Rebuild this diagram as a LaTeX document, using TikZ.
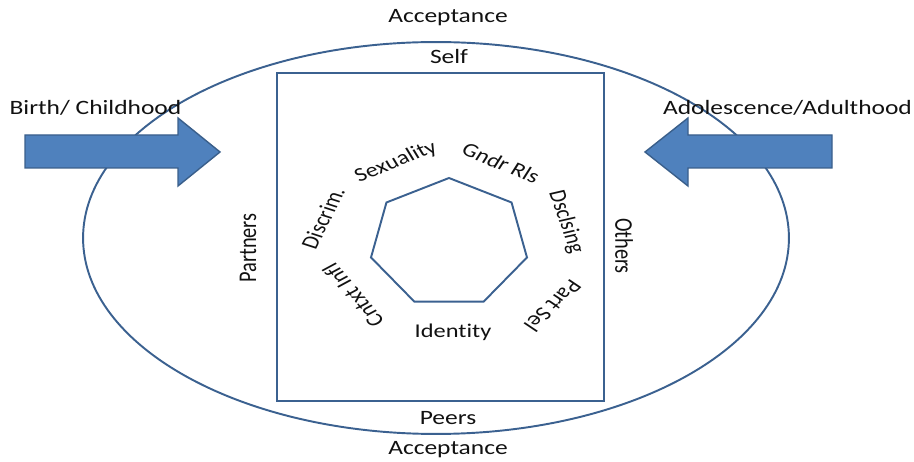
\documentclass[tikz,border=0pt]{standalone}
\usepackage{fontspec}
\setmainfont{Carlito}[Ligatures=NoCommon]
\usepackage{tikz}
\usetikzlibrary{shapes.geometric}
\definecolor{ringline}{HTML}{3B6190}
\definecolor{arrowfill}{HTML}{4F81BD}
\definecolor{arrowline}{HTML}{3A5F8B}
\definecolor{ink}{HTML}{111111}
\tikzset{
  every node/.style={text=ink},
  lbl/.style={font=\fontsize{11.6}{14}\selectfont, xscale=1.25, inner sep=0pt},
  topic/.style={lbl, font=\fontsize{11.1}{13}\selectfont},
  outline/.style={draw=ringline, line width=1.1pt},
  bigarrow/.style={fill=arrowfill, draw=arrowline, line width=0.8pt, line join=miter},
}

\begin{document}
\begin{tikzpicture}[x=0.02cm, y=-0.02cm]
  \useasboundingbox (0,0) rectangle (914,462);

  % =====================================================================
  % Outer field and inner frame
  % =====================================================================
  \node[outline, ellipse, inner sep=0pt,
        minimum width=14.12cm, minimum height=7.84cm] (field) at (436,238) {};
  \node[outline, rectangle, inner sep=0pt,
        minimum width=6.54cm, minimum height=6.56cm] (frame) at (440.5,237) {};

  % Core heptagon (vertex on top)
  \draw[outline, line join=miter] (449,178)
    \foreach \i in {1,...,6} { -- ({449+80*cos(90+\i*360/7)}, {243-65*sin(90+\i*360/7)}) }
    -- cycle;

  % Block arrows from both sides
  \draw[bigarrow] (25,135) -- (178,135) -- (178,118) -- (220,152)
    -- (178,186) -- (178,168) -- (25,168) -- cycle;
  \draw[bigarrow] (832,135) -- (688,135) -- (688,118) -- (645,152)
    -- (688,186) -- (688,168) -- (832,168) -- cycle;

  % =====================================================================
  % Labels
  % =====================================================================
  \node[lbl] (acctop) at (448,18)  {Acceptance};
  \node[lbl] (self)   at (449,56)  {Self};
  \node[lbl] (peers)  at (448,418) {Peers};
  \node[lbl] (accbot) at (448,450) {Acceptance};

  \node[lbl] (birth) at (95.5,108) {Birth/ Childhood};
  \node[lbl] (adult) at (787.5,108) {Adolescence/Adulthood};

  \node[lbl, rotate=90]  (partners) at (248,248) {Partners};
  \node[lbl, rotate=-90] (others)   at (624,246) {Others};

  % Ring of topics round the core
  \node[topic, rotate=26]   (sexuality) at (396,162) {Sexuality};
  \node[topic, rotate=-27]  (gender)    at (501,163) {Gndr Rls};
  \node[topic, rotate=-74]  (disclose)  at (566,222) {Dsclsing};
  \node[topic, rotate=230]  (partsel)   at (553,306) {Part Sel};
  \node[topic]              (identity)  at (453,332) {Identity};
  \node[topic, rotate=124]  (context)   at (353,295) {Cntxt Infl};
  \node[topic, rotate=68]   (discrim)   at (323,218) {Discrim.};

\end{tikzpicture}
\end{document}
